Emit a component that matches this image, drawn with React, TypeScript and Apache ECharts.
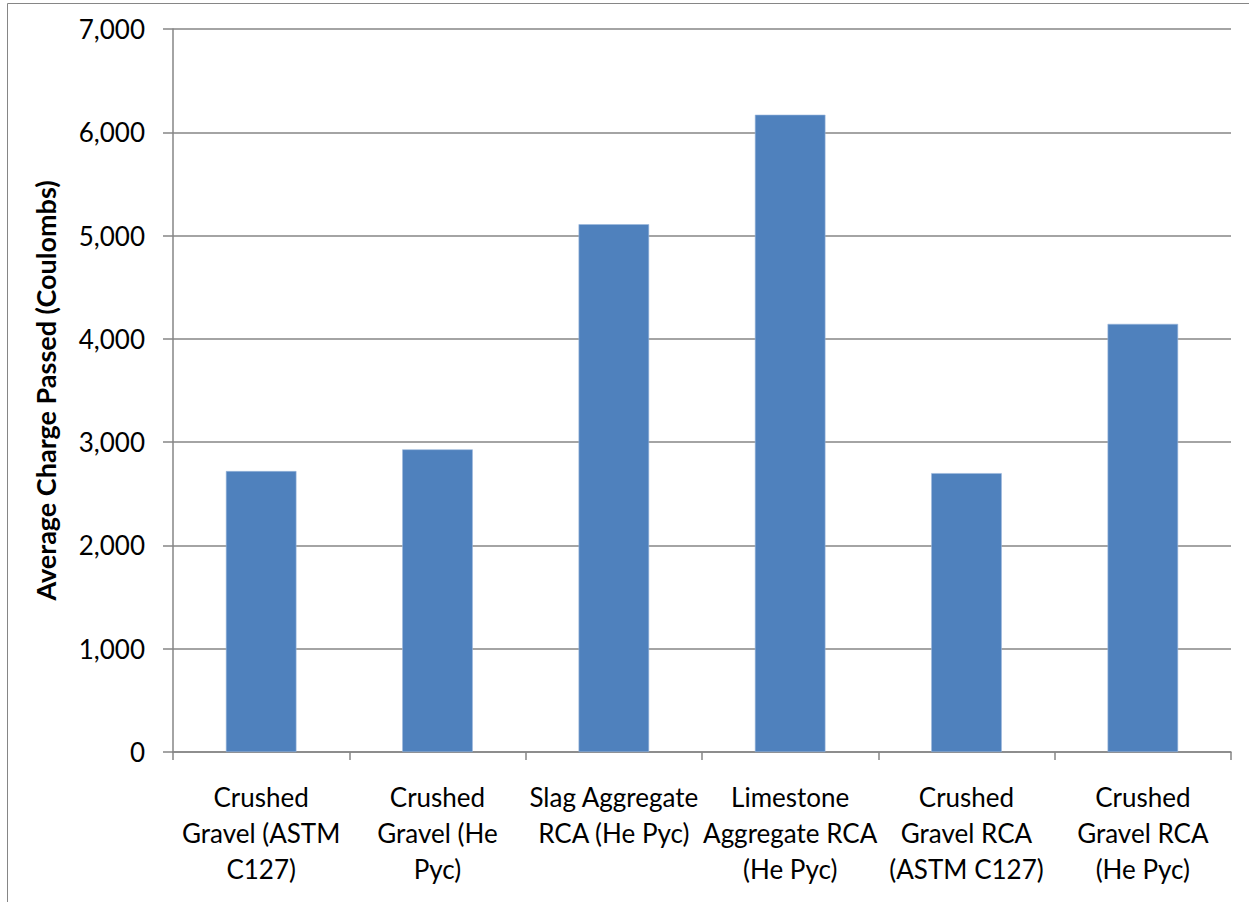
import React, { useEffect, useRef } from "react";
import * as echarts from "echarts";

const categories: string[] = [
  "Crushed\nGravel (ASTM\nC127)",
  "Crushed\nGravel (He\nPyc)",
  "Slag Aggregate\nRCA (He Pyc)",
  "Limestone\nAggregate RCA\n(He Pyc)",
  "Crushed\nGravel RCA\n(ASTM C127)",
  "Crushed\nGravel RCA\n(He Pyc)",
];

const chargePassed: number[] = [2720, 2930, 5110, 6170, 2700, 4145];

const yAxisTitle = "Average Charge Passed (Coulombs)";

const FONT = "Lato, 'Open Sans', sans-serif";
const AXIS_GRAY = "#868686";

export default function App() {
  const ref = useRef<HTMLDivElement>(null);

  useEffect(() => {
    document.body.style.margin = "0";
    if (!ref.current) return;
    const chart = echarts.init(ref.current, null, { renderer: "svg" });
    chart.setOption({
      animation: false,
      backgroundColor: "#ffffff",
      textStyle: { fontFamily: FONT },
      grid: { left: 173, right: 18, top: 29, bottom: 150, containLabel: false },
      graphic: [
        {
          type: "rect",
          shape: { x: 7.5, y: 3.5, width: 1300, height: 1000 },
          style: { fill: "none", stroke: AXIS_GRAY, lineWidth: 1 },
          silent: true,
        },
      ],
      xAxis: {
        type: "category",
        data: categories,
        boundaryGap: true,
        axisLine: { show: true, lineStyle: { color: AXIS_GRAY, width: 1.5 } },
        axisTick: { show: true, length: 8, lineStyle: { color: AXIS_GRAY, width: 1.5 } },
        axisLabel: {
          interval: 0,
          color: "#000000",
          fontFamily: FONT,
          fontSize: 26,
          lineHeight: 36,
          margin: 27,
          align: "center",
        },
        splitLine: { show: false },
      },
      yAxis: {
        type: "value",
        min: 0,
        max: 7000,
        interval: 1000,
        name: yAxisTitle,
        nameLocation: "middle",
        nameGap: 114,
        nameRotate: 90,
        nameTextStyle: {
          color: "#000000",
          fontFamily: FONT,
          fontWeight: "bold",
          fontSize: 27,
        },
        axisLine: { show: true, lineStyle: { color: AXIS_GRAY, width: 1.5 } },
        axisTick: { show: true, length: 10, lineStyle: { color: AXIS_GRAY, width: 1.5 } },
        axisLabel: {
          color: "#000000",
          fontFamily: FONT,
          fontSize: 26,
          margin: 28,
          formatter: (v: number) => v.toLocaleString("en-US"),
        },
        splitLine: { show: true, lineStyle: { color: AXIS_GRAY, width: 1.5 } },
      },
      series: [
        {
          type: "bar",
          data: chargePassed,
          barWidth: "40%",
          itemStyle: { color: "#4F81BD", borderColor: "#9bb7dc", borderWidth: 0.6 },
        },
      ],
    });
    return () => chart.dispose();
  }, []);

  return <div ref={ref} style={{ width: 1249, height: 902 }} />;
}
